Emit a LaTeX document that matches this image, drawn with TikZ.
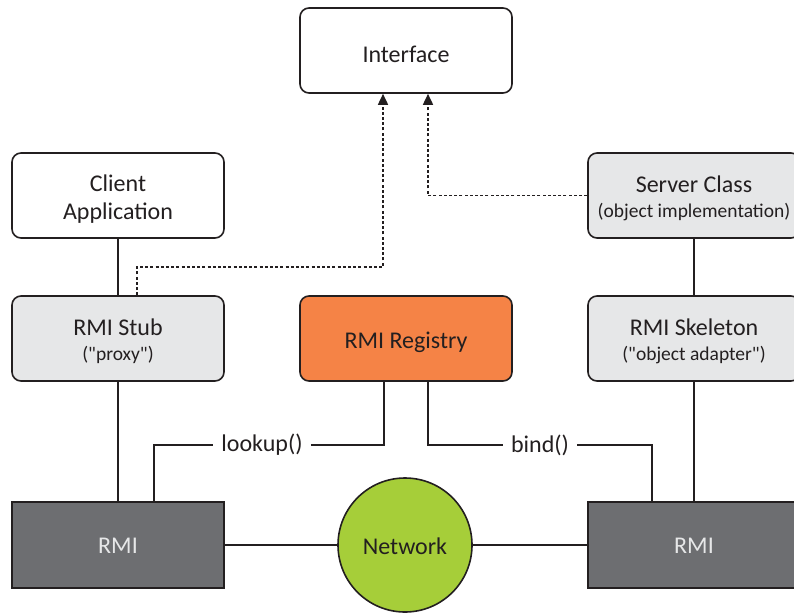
\documentclass[tikz,border=0pt]{standalone}
\usepackage{fontspec}
\setmainfont{Carlito}
\usetikzlibrary{arrows.meta}
\definecolor{ink}{HTML}{231F20}
\definecolor{lightbox}{HTML}{E6E7E8}
\definecolor{darkbox}{HTML}{6D6E71}
\definecolor{regorange}{HTML}{F58346}
\definecolor{netgreen}{HTML}{A6CE39}
\newcommand{\subtext}{\fontsize{19.5}{23}\selectfont}
\newcommand{\dq}{\textquotedbl}
\tikzset{
  box/.style={draw=ink, line width=1.6pt, rounded corners=9pt, minimum width=212pt,
    minimum height=85pt},
  plainbox/.style={box, fill=white},
  greybox/.style={box, fill=lightbox},
  regbox/.style={box, fill=regorange},
  boxtext/.style={align=center, text=ink, inner sep=0pt, font=\fontsize{24}{28}\selectfont},
  rmibox/.style={draw=ink, line width=1.6pt, fill=darkbox, minimum width=212pt,
    minimum height=86pt},
  rmitext/.style={text=lightbox, inner sep=0pt, font=\fontsize{24}{28}\selectfont},
  netnode/.style={circle, draw=ink, line width=1.6pt, fill=netgreen, minimum size=134pt,
    inner sep=0pt},
  wire/.style={draw=ink, line width=1.6pt},
  depend/.style={draw=ink, line width=1.6pt, dash pattern=on 3pt off 2.2pt,
    -{Triangle[length=11pt, width=10pt]}},
  call/.style={text=ink, font=\fontsize{24}{28}\selectfont, inner sep=8pt}
}
\begin{document}
\begin{tikzpicture}[x=1pt, y=-1pt]
  \useasboundingbox (0,0) rectangle (794,613);

  % boxes
  \node[plainbox] (iface)    at (406,50.5)  {};
  \node[plainbox] (client)   at (118,195.5) {};
  \node[greybox]  (server)   at (694,195.5) {};
  \node[greybox]  (stub)     at (118,338.5) {};
  \node[regbox]   (registry) at (406,338.5) {};
  \node[greybox]  (skeleton) at (694,338.5) {};
  \node[rmibox]   (rmiL)     at (118,545)   {};
  \node[rmibox]   (rmiR)     at (694,545)   {};
  \node[netnode]  (net)      at (405,545)   {};

  % box captions, set slightly below the geometric centre
  \node[boxtext] (ifaceT)    at ([yshift=-4pt]iface.center)    {Interface};
  \node[boxtext] (clientT)   at ([yshift=-4pt]client.center)   {Client\\Application};
  \node[boxtext] (serverT)   at ([yshift=-3pt]server.center)   {Server Class\\[-3pt]{\subtext (object implementation)}};
  \node[boxtext] (stubT)     at ([yshift=-3pt]stub.center)     {RMI Stub\\[-3pt]{\subtext (\dq proxy\dq)}};
  \node[boxtext] (registryT) at ([yshift=-4pt]registry.center) {RMI Registry};
  \node[boxtext] (skeletonT) at ([yshift=-3pt]skeleton.center) {RMI Skeleton\\[-3pt]{\subtext (\dq object adapter\dq)}};
  \node[rmitext] (rmiLT)     at ([yshift=-1pt]rmiL.center)     {RMI};
  \node[rmitext] (rmiRT)     at ([yshift=-1pt]rmiR.center)     {RMI};
  \node[boxtext] (netT)      at ([yshift=-1pt]net.center)      {Network};

  % vertical stacks
  \draw[wire] (client.south) -- (stub.north);
  \draw[wire] (stub.south) -- (rmiL.north);
  \draw[wire] (server.south) -- (skeleton.north);
  \draw[wire] (skeleton.south) -- (rmiR.north);

  % network links
  \draw[wire] (rmiL.east) -- (net.west);
  \draw[wire] (net.east) -- (rmiR.west);

  % registry calls
  \node[call] (lookup) at (262,445) {lookup()};
  \node[call] (bind)   at (540,445) {bind()};
  \draw[wire] ([xshift=36pt]rmiL.north) |- (lookup.west);
  \draw[wire] (lookup.east) -| ([xshift=-22pt]registry.south);
  \draw[wire] ([xshift=22pt]registry.south) |- (bind.west);
  \draw[wire] (bind.east) -| ([xshift=-42pt]rmiR.north);

  % interface dependencies
  \coordinate (stubbend) at (137,267);
  \draw[depend] ([xshift=19pt]stub.north) -- (stubbend) -| ([xshift=-23pt]iface.south);
  \draw[depend] (server.west) -| ([xshift=22pt]iface.south);
\end{tikzpicture}
\end{document}
